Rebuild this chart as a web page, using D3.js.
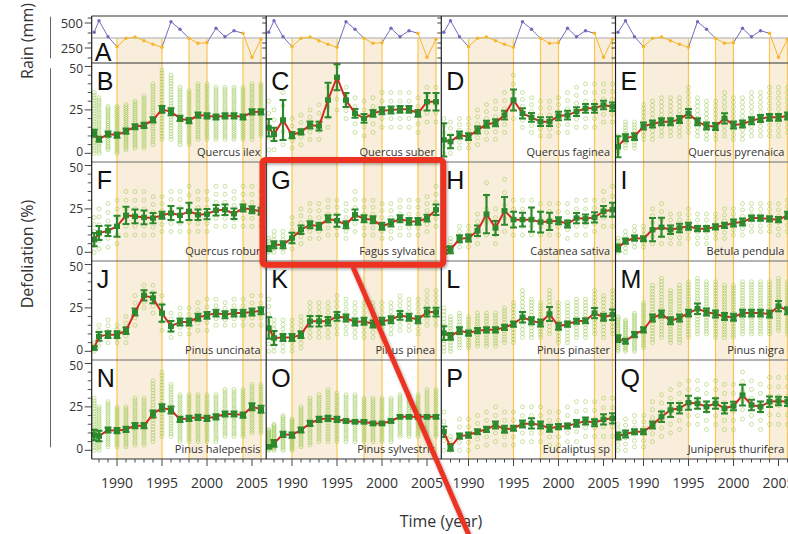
<!DOCTYPE html>
<html><head><meta charset="utf-8">
<script src="https://cdn.jsdelivr.net/npm/d3@7"></script>
<style>body{margin:0;background:#fff}svg{display:block}</style>
</head><body>
<svg id="chart" width="788" height="534"></svg>
<script>
// ---------------- DATA ----------------
const years = [1987,1988,1989,1990,1991,1992,1993,1994,1995,1996,1997,1998,1999,2000,2001,2002,2003,2004,2005,2006];
const rain = [407,523,363,263,347,360,323,287,257,513,437,347,297,303,447,363,423,397,157,337];
const rainThreshold = 350;
const droughtPeriods = [[1990,1995],[1998,2000],[2004,2006]];
const xTickYears = [1990,1995,2000,2005];
const defolTicks = [0,25,50];
const defolMinorTicks = [5,10,15,20,30,35,40,45];
const rainTickLabels = [250,500];
const rainMinorTicks = [150,300,400,550];

const letters = ["B","C","D","E","F","G","H","I","J","K","L","M","N","O","P","Q"];
const species = ["Quercus ilex","Quercus suber","Quercus faginea","Quercus pyrenaica",
  "Quercus robur","Fagus sylvatica","Castanea sativa","Betula pendula",
  "Pinus uncinata","Pinus pinea","Pinus pinaster","Pinus nigra",
  "Pinus halepensis","Pinus sylvestris","Eucaliptus sp","Juniperus thurifera"];

const B_mean = [11.5,8.1,11.1,10.5,12.8,15.3,16.1,19.2,25.3,23.9,20.1,18.8,22.0,21.6,20.9,21.6,21.6,20.9,23.8,23.9];
const B_err  = [2,1.5,1.5,1.5,1.5,1.5,1.5,1.5,2,2,1.5,1.5,1.5,1.5,1.5,1.5,1.5,1.5,1.5,1.5];
const B_lo   = [0,0,2,0,2,3,3,5,8,8,5,5,8,8,8,8,8,8,8,10];
const B_hi   = [35,32,27,27,28,30,33,40,48,45,38,36,40,40,38,38,38,38,40,40];

const C_mean = [14.7,10.9,19.2,10.5,12.4,16.3,15.7,30.7,43.8,30.7,23.0,20.1,23.0,24.5,24.9,25.3,25.3,23.0,29.7,29.7];
const C_err  = [5,3.8,11.5,1.8,1.5,2,2.5,10,7.5,4,2.5,2.5,2,2,2,2,2,2,5,5];
const C_lo   = [2,2,5,3,5,8,8,15,25,20,12,10,12,15,15,15,15,12,18,18];
const C_hi   = [30,25,35,20,22,25,28,38,50,38,32,30,32,35,35,35,35,32,38,38];

const D_mean = [7.7,6.7,10.5,9.6,13.4,16.7,17.6,22.0,30.7,23.0,20.7,18.2,18.2,21.5,22.0,24.0,25.9,25.9,27.8,26.8];
const D_err  = [9.6,3.8,2,2,2,2,2,2.5,6,3,2.5,2.5,2.5,2.5,2.5,2.5,2.5,2.5,2.5,2.5];
const D_lo   = [0,0,3,3,5,8,8,12,20,15,12,10,10,12,12,15,15,15,18,18];
const D_hi   = [20,18,20,20,25,28,30,35,45,35,32,30,30,32,35,38,40,40,40,40];

const E_mean = [3.8,9.0,9.6,15.7,16.9,18.2,18.2,19.5,23.0,18.2,15.7,15.4,20.1,16.3,16.9,18.8,20.1,20.7,20.7,21.5];
const E_err  = [6,2,2,2,2,2,2,2,2.5,2,2,2,3,2,2,2,2,2,2,2];
const E_lo   = [0,3,3,8,8,10,10,10,12,10,8,8,10,8,8,10,10,10,10,12];
const E_hi   = [10,18,18,28,30,32,32,32,38,32,30,30,35,32,32,35,35,38,38,38];

const F_mean = [7.3,11.1,12.4,15.0,21.3,20.7,20.1,19.7,21.3,22.6,21.3,23.6,21.6,22.0,24.2,24.5,22.2,25.5,24.5,23.6];
const F_err  = [3.8,4,3,6,5,4,4,3,2,4,4,5,3,3,3,3,3,2,2,2];
const F_lo   = [0,2,3,5,10,10,10,10,12,12,12,12,12,12,15,15,15,15,15,15];
const F_hi   = [20,25,28,30,35,35,35,32,32,35,35,38,35,35,38,38,35,38,38,35];

const G_mean = [2.1,4.4,4.4,8.2,13.0,15.9,15.0,19.3,18.2,15.9,21.6,19.3,18.8,15.0,16.9,19.3,17.8,17.8,19.7,24.5];
const G_err  = [1.5,2,2,3,2.5,2,2,2,3.5,2,3,2,2,2,2,2,2,2,2,3];
const G_lo   = [0,0,0,2,5,8,8,10,10,8,12,10,10,8,8,10,10,10,12,15];
const G_hi   = [8,12,12,20,25,28,28,30,30,28,35,30,30,28,28,30,30,30,32,38];

const H_mean = [1.0,1.5,7.8,8.2,12.4,22.0,14.0,23.9,18.8,18.8,18.8,17.4,17.8,18.2,16.3,19.7,19.3,20.1,23.6,24.5];
const H_err  = [2,2,2,2,3,11,4,8,4.5,4,7,6,5,2,2,3,2.5,3,3,4];
const H_lo   = [0,0,3,3,5,10,5,12,10,10,10,10,10,10,8,10,10,12,15,15];
const H_hi   = [5,8,15,15,22,40,25,42,30,30,30,28,28,28,28,30,30,30,35,38];

const I_mean = [2.5,6.4,8.2,7.8,13.0,14.4,13.0,14.0,15.0,13.6,13.6,14.6,15.5,16.9,17.4,19.7,19.7,19.2,18.8,21.3];
const I_err  = [2,1.5,1.5,1.5,6.7,5.5,2.5,2.5,2,1.5,1.5,1.5,1.5,2,2,1.5,1.5,1.5,1.5,2];
const I_lo   = [0,0,3,3,5,5,5,5,8,5,5,8,8,10,10,12,12,12,10,12];
const I_hi   = [8,12,15,15,25,28,22,22,25,22,22,22,25,25,28,28,28,28,28,30];

const J_mean = [1.9,8.6,9.6,9.6,11.9,22.6,32.2,30.7,22.0,14.4,16.9,16.9,19.6,20.7,22.0,21.1,22.0,22.0,22.6,23.4];
const J_err  = [1,2.5,2,2,2,2,3,3,5,3,2,2,2,2,2,2,2,2,2,2];
const J_lo   = [0,3,5,5,5,15,25,22,12,8,10,10,12,12,15,15,15,15,15,15];
const J_hi   = [5,15,18,15,20,32,38,38,32,22,25,25,28,30,30,28,30,30,32,32];

const K_mean = [13.4,7.7,7.9,7.9,9.6,17.3,17.3,17.3,20.1,19.2,16.9,17.3,15.7,17.3,18.2,20.7,19.6,18.2,22.6,22.6];
const K_err  = [6.2,4,2,2,2,3,3,2.5,2.5,2,2,2,2,2,2,2.5,2,2,2.5,2.5];
const K_lo   = [0,0,0,0,2,8,8,8,10,10,8,8,8,8,10,12,12,10,15,15];
const K_hi   = [30,18,18,18,20,28,28,28,32,30,28,28,28,28,28,32,30,30,35,35];

const L_mean = [10.5,8.6,11.9,10.5,11.9,12.4,12.4,13.8,15.7,19.6,17.6,16.3,21.5,14.4,15.7,17.3,17.6,22.0,19.6,21.1];
const L_err  = [4,2,2,1.5,1.5,1.5,1.5,1.5,1.5,3,2,2,4,2,1.5,1.5,1.5,3,2,3];
const L_lo   = [0,0,2,2,3,3,3,5,5,8,8,8,10,5,5,8,8,10,8,10];
const L_hi   = [25,20,22,20,22,22,22,25,28,35,30,28,35,28,28,30,30,35,32,35];

const M_mean = [7.3,5.8,9.6,12.4,19.2,21.5,17.6,19.2,22.0,24.5,22.6,21.5,20.1,19.6,22.0,22.0,22.0,21.5,26.0,23.4];
const M_err  = [2,1.5,1.5,1.5,2,2,2,2,2,3,2,2,2,2,2,2,2,2,3,2];
const M_lo   = [0,0,0,2,5,8,5,5,8,10,10,8,8,8,10,10,10,10,12,10];
const M_hi   = [20,18,22,28,38,42,35,38,40,42,40,40,38,38,40,40,40,40,42,40];

const N_mean = [8.8,8.2,11.7,11.3,12.1,14.2,14.2,20.9,24.5,23.2,17.8,18.4,19.0,18.4,19.3,20.9,20.9,20.3,25.1,23.6];
const N_err  = [3,3,1.5,1.5,1.5,1.5,1.5,2,2,2,1.5,1.5,1.5,1.5,1.5,1.5,1.5,1.5,2,2];
const N_lo   = [0,0,2,2,2,3,3,5,8,8,5,5,5,5,5,8,8,8,10,10];
const N_hi   = [30,25,28,25,25,30,30,40,45,38,32,32,32,32,32,35,35,35,38,38];

const O_mean = [2.1,4.0,9.2,8.8,11.7,15.5,17.8,18.4,17.8,16.9,16.5,16.5,15.5,15.5,16.9,19.3,19.3,19.3,19.3,19.3];
const O_err  = [1,2,1.5,1.5,1.5,1.5,1.5,1.5,1.5,1,1,1,1,1,1,1,1,1,1,1];
const O_lo   = [0,0,0,0,2,3,5,5,5,5,5,5,5,5,5,8,8,8,8,8];
const O_hi   = [12,15,20,18,25,30,32,35,33,32,32,30,30,30,30,32,32,32,35,35];

const P_mean = [10.7,1.7,8.2,8.8,10.7,12.1,14.6,12.1,12.7,15.1,15.5,14.6,12.7,13.6,14.0,15.5,16.9,15.9,17.8,18.4];
const P_err  = [3,2,1.5,1.5,1.5,1.5,2,2,1.5,2,3,2,2,1.5,1.5,2,2,2,3,3];
const P_lo   = [0,0,0,0,2,3,5,3,3,5,5,5,3,3,5,5,8,8,8,8];
const P_hi   = [22,8,18,18,20,22,25,22,22,25,25,25,22,22,25,28,28,28,30,30];

const Q_mean = [8.2,9.4,10.7,10.7,14.6,19.3,23.2,24.2,27.4,27.0,25.1,27.0,24.2,25.5,31.8,26.1,25.1,28.0,28.4,28.0];
const Q_err  = [2,2,1.5,1.5,2,3,4,3,4,3,3,3,3,2.5,6,3,3,3,2.5,2.5];
const Q_lo   = [0,0,2,2,5,8,10,12,15,15,12,15,12,12,18,15,12,15,15,15];
const Q_hi   = [15,18,20,20,28,32,35,38,40,40,38,40,38,38,45,40,38,42,42,42];

// number of sampled plots drawn per year (per species)
const plotCounts = [24,5,6,10,6,6,5,6,5,8,13,20,21,21,5,6];

// ---------------- TABLE ----------------
const means = [B_mean,C_mean,D_mean,E_mean,F_mean,G_mean,H_mean,I_mean,J_mean,K_mean,L_mean,M_mean,N_mean,O_mean,P_mean,Q_mean];
const errs  = [B_err,C_err,D_err,E_err,F_err,G_err,H_err,I_err,J_err,K_err,L_err,M_err,N_err,O_err,P_err,Q_err];
const los   = [B_lo,C_lo,D_lo,E_lo,F_lo,G_lo,H_lo,I_lo,J_lo,K_lo,L_lo,M_lo,N_lo,O_lo,P_lo,Q_lo];
const his   = [B_hi,C_hi,D_hi,E_hi,F_hi,G_hi,H_hi,I_hi,J_hi,K_hi,L_hi,M_hi,N_hi,O_hi,P_hi,Q_hi];
const panels = letters.map((l,i)=>({letter:l,name:species[i],mean:means[i],err:errs[i],lo:los[i],hi:his[i],n:plotCounts[i]}));

// ---------------- LAYOUT ----------------
const FONT = "'Open Sans','Liberation Sans',sans-serif";
const colLeft = [91.7, 266.2, 441.3, 615.5];
const colWidth = 174.8;
const col1990 = [117, 292, 468.5, 643.5];
const rainTop = 16, rainBottom = 63, rowH = 99;
const gridRight = colLeft[3] + colWidth;
const bottomY = rainBottom + 4*rowH;

const C_SHADE = "#f9eedb", C_SHLINE = "#fcc64e";
const C_BLUE = "#6e6ebd", C_ORANGE = "#f7b52c";
const C_DOT = "#93c548", C_BAR = "#2c8a2c", C_LINE = "#d32a1f";

const svg = d3.select("#chart");
svg.append("rect").attr("width",788).attr("height",534).attr("fill","#fff");
const defs = svg.append("defs");

const xScales = colLeft.map((l,c)=>d3.scaleLinear().domain([1990,2005]).range([col1990[c], col1990[c]+135]));
const px = (c,yr)=>Math.max(xScales[c](yr), colLeft[c]+2.5);
const inDrought = yr => droughtPeriods.some(p=>yr>=p[0] && yr<=p[1]);
const rainY = d3.scaleLinear().domain([100,570]).range([rainBottom, rainTop]);
const rowY = r => d3.scaleLinear().domain([-5,52]).range([rainBottom+rowH*(r+1), rainBottom+rowH*r]);

// ---------- rain panels ----------
for (let c=0;c<4;c++){
  const id="rclip"+c;
  defs.append("clipPath").attr("id",id).append("rect")
    .attr("x",colLeft[c]).attr("y",rainTop).attr("width",colWidth).attr("height",rainBottom-rainTop);
  const g = svg.append("g").attr("clip-path",`url(#${id})`);
  const x = xScales[c];
  const thrY = rainY(rainThreshold);
  droughtPeriods.forEach(p=>{
    g.append("rect").attr("x",x(p[0])).attr("y",thrY).attr("width",x(p[1])-x(p[0])).attr("height",rainBottom-thrY).attr("fill",C_SHADE);
    p.forEach(yr=>g.append("line").attr("x1",x(yr)).attr("x2",x(yr)).attr("y1",thrY).attr("y2",rainBottom).attr("stroke",C_SHLINE).attr("stroke-width",1.2));
  });
  g.append("line").attr("x1",colLeft[c]).attr("x2",colLeft[c]+colWidth).attr("y1",thrY).attr("y2",thrY).attr("stroke","#c4c4c4").attr("stroke-width",1.6);
  for (let i=0;i<years.length-1;i++){
    const both = inDrought(years[i]) && inDrought(years[i+1]);
    g.append("line").attr("x1",px(c,years[i])).attr("y1",rainY(rain[i])).attr("x2",px(c,years[i+1])).attr("y2",rainY(rain[i+1]))
      .attr("stroke",both?C_ORANGE:C_BLUE).attr("stroke-width",1);
  }
  years.forEach((yr,i)=>g.append("circle").attr("cx",px(c,yr)).attr("cy",rainY(rain[i])).attr("r",1.7).attr("fill",inDrought(yr)?C_ORANGE:C_BLUE));
  const allT = rainTickLabels.concat(rainMinorTicks);
  allT.forEach(t=>{
    const major = rainTickLabels.includes(t) && c===0;
    svg.append("line").attr("x1",colLeft[c]-(major?7:4)).attr("x2",colLeft[c]).attr("y1",rainY(t)).attr("y2",rainY(t)).attr("stroke","#444").attr("stroke-width",1);
  });
}
svg.append("text").attr("x",colLeft[0]+3).attr("y",61).attr("font-family","'Liberation Sans',Arial,sans-serif").attr("font-size",25).attr("fill","#111").text("A");
rainTickLabels.forEach(t=>svg.append("text").attr("x",83).attr("y",rainY(t)).attr("dy","0.36em").attr("text-anchor","end")
  .attr("font-family",FONT).attr("font-size",13).attr("fill","#333").text(t));

// ---------- defoliation panels ----------
const labelNudge = {0:-2, 25:0, 50:2.5};
panels.forEach((p,i)=>{
  const r = Math.floor(i/4), c = i%4;
  const y = rowY(r), x = xScales[c];
  const top = rainBottom + rowH*r;
  const id = "pclip"+i;
  defs.append("clipPath").attr("id",id).append("rect").attr("x",colLeft[c]).attr("y",top).attr("width",colWidth).attr("height",rowH);
  const g = svg.append("g").attr("clip-path",`url(#${id})`);
  droughtPeriods.forEach(d=>{
    g.append("rect").attr("x",x(d[0])).attr("y",top).attr("width",x(d[1])-x(d[0])).attr("height",rowH).attr("fill",C_SHADE);
    d.forEach(yr=>g.append("line").attr("x1",x(yr)).attr("x2",x(yr)).attr("y1",top).attr("y2",top+rowH).attr("stroke",C_SHLINE).attr("stroke-width",1.2));
  });
  years.forEach((yr,k)=>{
    for (let j=0;j<p.n;j++){
      const v = p.lo[k] + (p.hi[k]-p.lo[k])*j/(p.n-1);
      g.append("circle").attr("cx",px(c,yr)).attr("cy",y(v)).attr("r",2.0)
        .attr("fill","none").attr("stroke",C_DOT).attr("stroke-width",0.75).attr("opacity",0.65);
    }
  });
  years.forEach((yr,k)=>{
    const cx = px(c,yr), y1 = y(p.mean[k]-p.err[k]), y2 = y(p.mean[k]+p.err[k]);
    g.append("line").attr("x1",cx).attr("x2",cx).attr("y1",y1).attr("y2",y2).attr("stroke",C_BAR).attr("stroke-width",2.2);
    [y1,y2].forEach(yy=>g.append("line").attr("x1",cx-3.5).attr("x2",cx+3.5).attr("y1",yy).attr("y2",yy).attr("stroke",C_BAR).attr("stroke-width",2));
  });
  const line = d3.line().x((d,k)=>px(c,years[k])).y(d=>y(d));
  g.append("path").attr("d",line(p.mean)).attr("fill","none").attr("stroke",C_LINE).attr("stroke-width",2);
  years.forEach((yr,k)=>g.append("rect").attr("x",px(c,yr)-3).attr("y",y(p.mean[k])-2.7).attr("width",6).attr("height",5.4).attr("fill",C_BAR));
  svg.append("text").attr("x",colLeft[c]+5).attr("y",top+27).attr("font-family","'Liberation Sans',Arial,sans-serif")
    .attr("font-size",25).attr("fill","#111").text(p.letter);
  svg.append("text").attr("x",colLeft[c]+colWidth-6).attr("y",top+93).attr("text-anchor","end")
    .attr("font-family",FONT).attr("font-size",11).attr("fill","#333").text(p.name);
  if (c===0){
    defolTicks.forEach(t=>{
      svg.append("line").attr("x1",colLeft[0]-7).attr("x2",colLeft[0]).attr("y1",y(t)).attr("y2",y(t)).attr("stroke","#444");
      svg.append("text").attr("x",83).attr("y",y(t)+labelNudge[t]).attr("dy","0.36em").attr("text-anchor","end")
        .attr("font-family",FONT).attr("font-size",12).attr("fill","#333").text(t);
    });
    defolMinorTicks.forEach(t=>svg.append("line").attr("x1",colLeft[0]-4).attr("x2",colLeft[0]).attr("y1",y(t)).attr("y2",y(t)).attr("stroke","#555"));
  }
});

// ---------- grid borders ----------
for (let r=0;r<=4;r++){
  const yy = rainBottom + rowH*r;
  svg.append("line").attr("x1",colLeft[0]).attr("x2",gridRight).attr("y1",yy).attr("y2",yy)
    .attr("stroke",(r===0||r===4)?"#333":"#6a6a6a").attr("stroke-width",1.1);
}
svg.append("line").attr("x1",colLeft[0]).attr("x2",gridRight).attr("y1",rainTop).attr("y2",rainTop).attr("stroke","#333").attr("stroke-width",1.1);
colLeft.forEach(l=>svg.append("line").attr("x1",l).attr("x2",l).attr("y1",rainTop).attr("y2",bottomY).attr("stroke","#222").attr("stroke-width",1.2));

// ---------- x axis ----------
for (let c=0;c<4;c++){
  const x = xScales[c];
  years.forEach(yr=>{
    const xx = x(yr);
    if (xx < colLeft[c]+1) return;
    const major = xTickYears.includes(yr);
    svg.append("line").attr("x1",xx).attr("x2",xx).attr("y1",bottomY).attr("y2",bottomY+(major?7:3.5)).attr("stroke","#444");
  });
  xTickYears.forEach(yr=>svg.append("text").attr("x",x(yr)).attr("y",488).attr("text-anchor","middle")
    .attr("font-family",FONT).attr("font-size",14).attr("fill","#333").text(yr));
}

// ---------- titles & brackets ----------
svg.append("line").attr("x1",50.5).attr("x2",50.5).attr("y1",16.7).attr("y2",58.3).attr("stroke","#666");
svg.append("line").attr("x1",50.5).attr("x2",50.5).attr("y1",68.3).attr("y2",447.3).attr("stroke","#666");
svg.append("text").attr("transform","translate(33,41) rotate(-90)").attr("text-anchor","middle")
  .attr("font-family",FONT).attr("font-size",16).attr("fill","#333").text("Rain (mm)");
svg.append("text").attr("transform","translate(33,254) rotate(-90)").attr("text-anchor","middle")
  .attr("font-family",FONT).attr("font-size",16).attr("fill","#333").text("Defoliation (%)");
svg.append("text").attr("x",441).attr("y",527).attr("text-anchor","middle")
  .attr("font-family",FONT).attr("font-size",16).attr("fill","#333").text("Time (year)");

// ---------- red annotation ----------
const f = defs.append("filter").attr("id","shadow").attr("x","-10%").attr("y","-10%").attr("width","130%").attr("height","130%");
f.append("feDropShadow").attr("dx",1).attr("dy",1.5).attr("stdDeviation",1.5).attr("flood-color","#000").attr("flood-opacity",0.35);
svg.append("rect").attr("x",262.5).attr("y",160).attr("width",180.8).attr("height",104.7).attr("rx",3).attr("ry",3)
  .attr("fill","none").attr("stroke","#ee3322").attr("stroke-width",6).attr("filter","url(#shadow)");
svg.append("line").attr("x1",353).attr("y1",267).attr("x2",471).attr("y2",540)
  .attr("stroke","#ee3322").attr("stroke-width",5).attr("filter","url(#shadow)");
</script>
</body></html>
